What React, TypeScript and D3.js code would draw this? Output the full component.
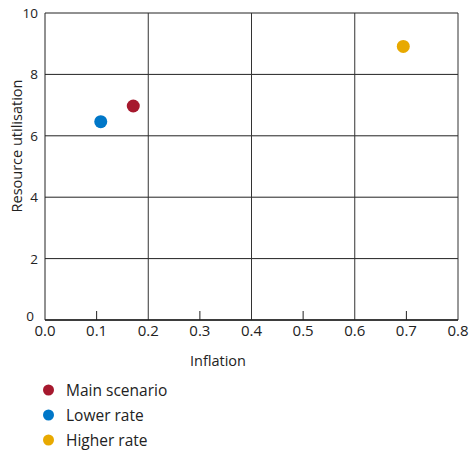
import React from "react";
import * as d3 from "d3";

const seriesNames = ["Main scenario", "Lower rate", "Higher rate"];
const inflation = [0.171, 0.108, 0.694];
const utilisation = [6.97, 6.46, 8.91];
const colors = ["#A6192E", "#0077C8", "#E8A900"];
const xTicks = [0, 0.1, 0.2, 0.3, 0.4, 0.5, 0.6, 0.7, 0.8];
const xGrid = [0.2, 0.4, 0.6, 0.8];
const xMinor = [0.1, 0.3, 0.5, 0.7];
const yTicks = [0, 2, 4, 6, 8, 10];

export default function App() {
  const W = 471, H = 450;
  const left = 45, right = 458, top = 13, bottom = 320;
  const x = d3.scaleLinear().domain([0, 0.8]).range([left, right]);
  const y = d3.scaleLinear().domain([0, 10]).range([bottom, top]);
  const font = "'Open Sans', 'Noto Sans', sans-serif";
  return (
    <svg width={W} height={H} style={{ position: "absolute", left: 0, top: 0 }} fontFamily={font}>
      <rect x={0} y={0} width={W} height={H} fill="#fff" />
      {yTicks.map((t) => (
        <line key={"yg" + t} x1={left} x2={right} y1={y(t)} y2={y(t)} stroke="#222" strokeWidth={1} />
      ))}
      {xGrid.map((t) => (
        <line key={"xg" + t} x1={x(t)} x2={x(t)} y1={top} y2={bottom} stroke="#333" strokeWidth={1} />
      ))}
      <line x1={left} x2={left} y1={top} y2={bottom} stroke="#222" strokeWidth={1} />
      <line x1={left} x2={right} y1={bottom} y2={bottom} stroke="#222" strokeWidth={1.5} />
      {xMinor.map((t) => (
        <line key={"xm" + t} x1={x(t)} x2={x(t)} y1={bottom - 9} y2={bottom} stroke="#222" strokeWidth={1} />
      ))}
      {xTicks.map((t) => (
        <text key={"xt" + t} x={x(t)} y={336} textAnchor="middle" fontSize={15} fill="#222">
          {d3.format(".1f")(t)}
        </text>
      ))}
      {yTicks.map((t) => (
        <text key={"yt" + t} x={t === 0 ? 34 : 38} y={t === 0 ? y(t) + 1 : y(t) + 5} textAnchor="end" fontSize={13.5} fill="#222">
          {t}
        </text>
      ))}
      <text x={218} y={366} textAnchor="middle" fontSize={14.5} fill="#222">Inflation</text>
      <text transform={`translate(22,146) rotate(-90)`} textAnchor="middle" fontSize={14.5} fill="#222">
        Resource utilisation
      </text>
      {inflation.map((v, i) => (
        <circle key={"p" + i} cx={x(v)} cy={y(utilisation[i])} r={6.5} fill={colors[i]} />
      ))}
      {seriesNames.map((n, i) => (
        <g key={"lg" + i} transform={`translate(0,${390 + i * 25})`}>
          <circle cx={48.5} cy={0} r={5.5} fill={colors[i]} />
          <text x={66} y={5.5} fontSize={15.5} fill="#222">{n}</text>
        </g>
      ))}
    </svg>
  );
}
